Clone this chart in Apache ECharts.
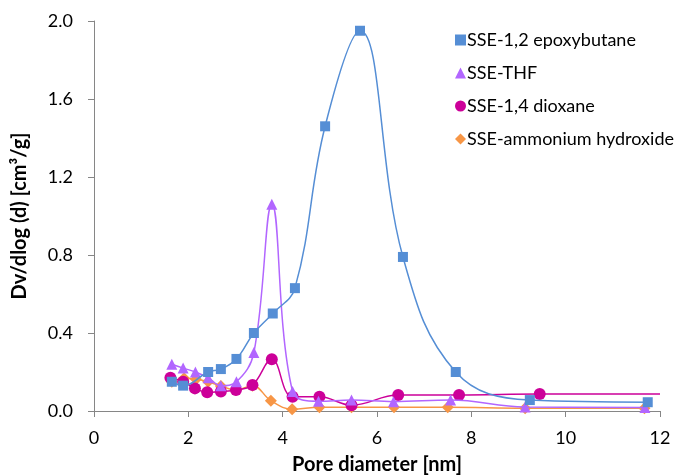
<!DOCTYPE html>
<html>
<head>
<meta charset="utf-8">
<title>Pore size distribution</title>
<script src="https://cdn.jsdelivr.net/npm/echarts@6/dist/echarts.min.js"></script>
<style>
  html, body { margin: 0; padding: 0; background: #fff; }
  #chart { width: 674px; height: 476px; }
</style>
</head>
<body>
<div id="chart"></div>
<script>
// data: [pore diameter nm, Dv/dlog(d)]
var epoxyX = [1.65, 1.89, 2.42, 2.69, 3.02, 3.39, 3.79, 4.26, 4.90, 5.64, 6.55, 7.67, 9.24, 11.74];
var epoxyY = [0.15, 0.13, 0.20, 0.215, 0.267, 0.40, 0.50, 0.63, 1.46, 1.95, 0.79, 0.20, 0.056, 0.045];

var thfX = [1.65, 1.89, 2.15, 2.42, 2.69, 3.02, 3.39, 3.77, 4.21, 4.76, 5.46, 6.35, 7.56, 9.14, 11.68];
var thfY = [0.24, 0.22, 0.20, 0.17, 0.13, 0.15, 0.30, 1.06, 0.10, 0.05, 0.056, 0.048, 0.056, 0.02, 0.018];

var dioxX = [1.62, 1.89, 2.14, 2.40, 2.69, 3.01, 3.36, 3.77, 4.21, 4.78, 5.46, 6.45, 7.74, 9.45];
var dioxY = [0.17, 0.15, 0.116, 0.096, 0.10, 0.108, 0.133, 0.265, 0.073, 0.073, 0.03, 0.082, 0.082, 0.087];

var ammX = [1.65, 1.91, 2.16, 2.42, 2.69, 3.01, 3.36, 3.75, 4.20, 4.78, 5.46, 6.36, 7.50, 9.14, 11.67];
var ammY = [0.15, 0.168, 0.163, 0.15, 0.128, 0.108, 0.13, 0.053, 0.009, 0.019, 0.019, 0.019, 0.019, 0.014, 0.014];

var names = ['SSE-1,2 epoxybutane', 'SSE-THF', 'SSE-1,4 dioxane', 'SSE-ammonium hydroxide'];
var colors = ['#558ed5', '#b266ff', '#cc0099', '#f79646'];
var xTicks = [0, 2, 4, 6, 8, 10, 12];
var yTicks = [0, 0.4, 0.8, 1.2, 1.6, 2.0];

function pairs(xs, ys) {
  return xs.map(function (x, i) { return [x, ys[i]]; });
}

var fontFam = 'Lato, Open Sans, sans-serif';

function mkSeries(i, xs, ys, sym, size) {
  return {
    name: names[i],
    type: 'line',
    smooth: 0.4,
    data: pairs(xs, ys),
    symbol: sym,
    symbolSize: size,
    itemStyle: { color: colors[i] },
    lineStyle: { color: colors[i], width: 1.5 },
    z: 10 - i
  };
}

var chart = echarts.init(document.getElementById('chart'));
var option = {
  animation: false,
  backgroundColor: '#fff',
  grid: { left: 94, right: 14, top: 21, bottom: 65, containLabel: false, outerBoundsMode: 'none' },
  legend: {
    orient: 'vertical',
    left: 450,
    top: 26,
    itemGap: 15,
    itemWidth: 11,
    itemHeight: 11,
    textStyle: { fontFamily: fontFam, fontSize: 18, lineHeight: 18, color: '#000', padding: [0, 0, 0, -4] },
    data: [
      { name: names[0], icon: 'rect' },
      { name: names[1], icon: 'triangle' },
      { name: names[2], icon: 'circle' },
      { name: names[3], icon: 'diamond' }
    ]
  },
  xAxis: {
    type: 'value',
    min: xTicks[0],
    max: xTicks[xTicks.length - 1],
    interval: 2,
    name: 'Pore diameter [nm]',
    nameLocation: 'middle',
    nameGap: 44,
    nameTextStyle: { fontFamily: fontFam, fontSize: 20, fontWeight: 'bold', color: '#000' },
    axisLine: { lineStyle: { color: '#868686', width: 1 } },
    axisTick: { show: true, inside: false, length: 6, lineStyle: { color: '#868686' } },
    axisLabel: { fontFamily: fontFam, fontSize: 18, color: '#000', margin: 18 },
    splitLine: { show: false }
  },
  yAxis: {
    type: 'value',
    min: yTicks[0],
    max: yTicks[yTicks.length - 1],
    interval: 0.4,
    name: 'Dv/dlog (d) [cm³/g]',
    nameLocation: 'middle',
    nameGap: 64,
    nameRotate: 90,
    nameTextStyle: { fontFamily: fontFam, fontSize: 20, fontWeight: 'bold', color: '#000' },
    axisLine: { show: true, lineStyle: { color: '#868686', width: 1 } },
    axisTick: { show: true, inside: false, length: 6, lineStyle: { color: '#868686' } },
    axisLabel: {
      fontFamily: fontFam, fontSize: 18, color: '#000', margin: 21,
      formatter: function (v) { return v.toFixed(1); }
    },
    splitLine: { show: false }
  },
  series: [
    mkSeries(0, epoxyX, epoxyY, 'rect', 10),
    mkSeries(1, thfX, thfY, 'triangle', 11),
    mkSeries(2, dioxX, dioxY, 'circle', 12),
    mkSeries(3, ammX, ammY, 'diamond', 12)
  ]
};
// dioxane line runs flat to the right edge
option.series[2].data.push({ value: [12, 0.087], symbol: 'none' });
chart.setOption(option);
</script>
</body>
</html>
